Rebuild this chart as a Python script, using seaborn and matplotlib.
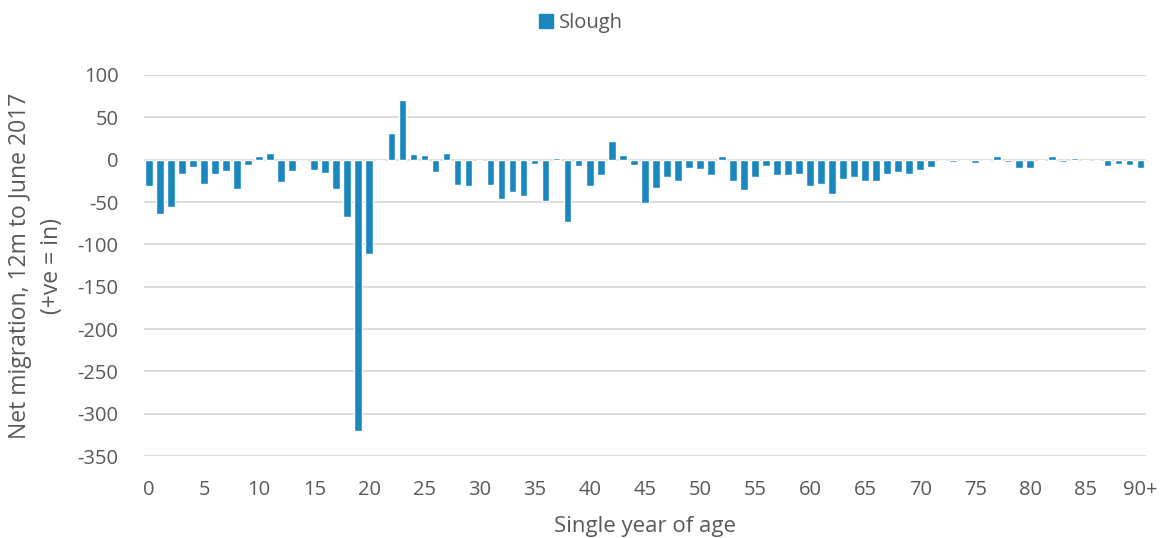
import numpy as np
import pandas as pd
import matplotlib
matplotlib.use("Agg")
import matplotlib.pyplot as plt
import seaborn as sns

# net migration by single year of age (0 .. 90+)
ages = [str(a) for a in range(90)] + ["90+"]
net_migration = [
    -31, -64, -56, -17, -9, -29, -17, -13, -35, -6,
    4, 8, -26, -13, -1, -12, -16, -35, -68, -321,
    -111, -2, 32, 71, 7, 5, -15, 8, -30, -31,
    0, -30, -46, -38, -43, -5, -49, 2, -74, -7,
    -31, -18, 22, 6, -6, -51, -33, -21, -25, -10,
    -11, -18, 4, -25, -36, -20, -7, -18, -18, -17,
    -31, -29, -41, -23, -20, -25, -25, -17, -15, -17,
    -12, -9, -1, -3, -1, -4, -1, 4, -3, -10,
    -10, 0, 4, -3, 2, -2, 0, -8, -5, -6,
    -10,
]
tick_ages = list(range(0, 91, 5))
tick_labels = [str(a) for a in range(0, 90, 5)] + ["90+"]

df = pd.DataFrame({"age": ages, "net": net_migration})

sns.set_theme(style="white")
plt.rcParams["font.family"] = ["Open Sans", "DejaVu Sans"]
plt.rcParams["axes.unicode_minus"] = False
grey = "#595959"
bar_col = "#1B87BF"

fig = plt.figure(figsize=(11.62, 5.38), dpi=100)
ax = fig.add_axes([0.1235, 0.1524, 0.8627, 0.7082])

sns.barplot(data=df, x="age", y="net", color=bar_col, width=0.7,
            saturation=1, ax=ax, zorder=3)

ax.set_ylim(-350, 100)
ax.set_yticks(np.arange(-350, 101, 50))
ax.yaxis.grid(True, color="#D9D9D9", linewidth=1.3, zorder=0)
ax.set_axisbelow(True)
ax.set_xlim(-0.5, 90.5)
ax.set_xticks(tick_ages)
ax.set_xticklabels(tick_labels)
for s in ax.spines.values():
    s.set_visible(False)
ax.tick_params(axis="both", length=0, labelsize=14.5, colors=grey)
ax.tick_params(axis="x", pad=17)
ax.tick_params(axis="y", pad=18)

ax.set_xlabel("Single year of age", fontsize=16, color=grey, labelpad=12)
ax.set_ylabel("Net migration, 12m to June 2017\n(+ve = in)", fontsize=16.5,
              color=grey, labelpad=10, linespacing=1.4)

handle = plt.Rectangle((0, 0), 1, 1, color=bar_col)
fig.legend([handle], ["Slough"], loc="upper center", bbox_to_anchor=(0.5, 1.01),
           frameon=False, fontsize=14.5, handlelength=0.7, handleheight=0.7,
           handletextpad=0.3, labelcolor=grey)

fig.savefig("out.png", dpi=100)
